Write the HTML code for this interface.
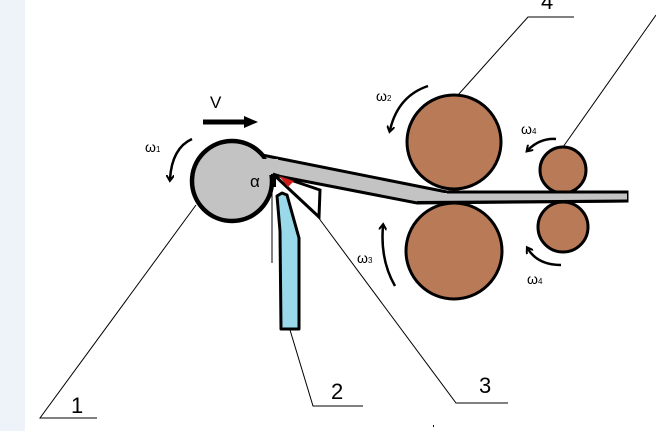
<!DOCTYPE html>
<html><head><style>
body{margin:0;width:656px;height:431px;overflow:hidden;background:#fff}
svg{display:block}
text{font-family:"Liberation Sans",sans-serif}
</style></head><body>
<svg width="656" height="431" viewBox="0 0 656 431">
<defs><marker id="ah" markerWidth="8" markerHeight="8" refX="4" refY="4" orient="auto" markerUnits="userSpaceOnUse"><path d="M0,0 L6,4 L0,8" fill="none" stroke="#000" stroke-width="2"/></marker></defs>
<rect x="0" y="0" width="25" height="431" fill="#eef3fa"/>
<g stroke="#000" stroke-width="1" fill="none">
<polyline points="196,205 40,418 97,418"/>
<polyline points="290,330 313,406 363,406"/>
<polyline points="318,217 456,403 508,403"/>
<polyline points="458,95 528,17 574,17"/>
<line x1="563" y1="147" x2="656" y2="15"/>
<line x1="272" y1="190" x2="272" y2="263"/>
</g>
<circle cx="232" cy="181" r="40" fill="#c3c3c3" stroke="#000" stroke-width="4.5"/>
<polygon points="262,155 447,192 627,192 627,201 417,203 278,176" fill="#c3c3c3" stroke="#000" stroke-width="3" stroke-linejoin="miter"/>
<rect x="262" y="159" width="16" height="16" fill="#c3c3c3"/>
<g fill="#b97a57" stroke="#000" stroke-width="3">
<circle cx="454" cy="142" r="47"/>
<circle cx="454" cy="251" r="48"/>
<circle cx="563" cy="170" r="23"/>
<circle cx="563" cy="227" r="25"/>
</g>
<polygon points="420,193 627,193 627,200 417,202" fill="#c3c3c3"/>
<line x1="447" y1="192" x2="627" y2="192" stroke="#000" stroke-width="3"/>
<line x1="417" y1="202.5" x2="627" y2="201" stroke="#000" stroke-width="3"/>
<polygon points="273,174 320,190 319,217" fill="#fff" stroke="#000" stroke-width="3"/>
<polygon points="279,176 294,181 288,187" fill="#d21b1b"/>
<rect x="271" y="174" width="5" height="13" fill="#000"/>
<polygon points="277,196 282,193 287,195 299,238 299,329 281,329 280,231" fill="#99d9ea" stroke="#000" stroke-width="3" stroke-linejoin="round"/>
<text x="250" y="187" font-size="17">α</text>
<text x="210" y="108" font-size="17">V</text>
<line x1="203" y1="122" x2="246" y2="122" stroke="#000" stroke-width="5"/>
<polygon points="244,116 258,122 244,128" fill="#000"/>
<g font-family="Liberation Serif,serif" font-size="14">
<text x="145" y="152">ω<tspan font-size="8">1</tspan></text>
<text x="376" y="101">ω<tspan font-size="8">2</tspan></text>
<text x="357" y="263">ω<tspan font-size="8">3</tspan></text>
<text x="521" y="134">ω<tspan font-size="8">4</tspan></text>
<text x="527" y="284">ω<tspan font-size="8">4</tspan></text>
</g>
<g fill="none" stroke="#000" stroke-width="2.5" marker-end="url(#ah)">
<path d="M192,139 Q172,148 170,179"/>
<path d="M428,86 Q398,96 390,130"/>
<path d="M395,286 Q380,260 383,226"/>
<path d="M556,139 Q540,138 528,150"/>
<path d="M561,265 Q538,265 528,249"/>
</g>
<g font-size="22">
<text x="71" y="413">1</text>
<text x="331" y="399">2</text>
<text x="479" y="393">3</text>
<text x="541" y="9">4</text>
</g>
<rect x="433" y="425" width="1" height="2" fill="#000"/>
</svg>
</body></html>
